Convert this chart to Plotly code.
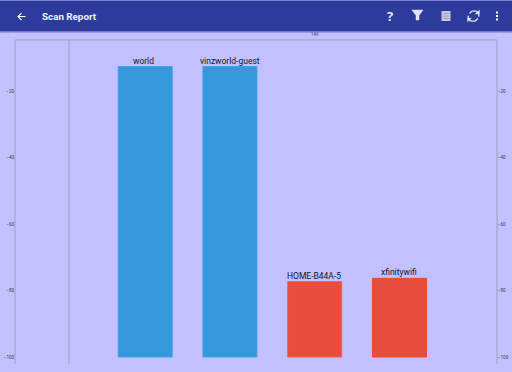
import plotly.graph_objects as go

W, H = 512, 372
L, R, T, B = 15, 497, 39.5, 364

networks = ["world", "vinzworld-guest", "HOME-B44A-5", "xfinitywifi"]
positions = [1, 2, 3, 4]
levels = [-12.5, -12.5, -77.3, -76.3]
colors = ["#3498db", "#3498db", "#e74c3c", "#e74c3c"]
edges = ["#3ea2e6", "#3ea2e6", "#ee5f50", "#ee4630"]
y_ticks = [-20, -40, -60, -80, -100]
top_tick_pos = [3]
top_tick_labels = ["149"]
BG = "#c2c0ff"
BAR = "#2d3c9c"
AX = "#a0a0b4"

def px(x): return (x - L) / (R - L)
def py(y): return (B - y) / (B - T)

fig = go.Figure()
fig.add_trace(go.Bar(
    x=positions, y=[v + 100 for v in levels], base=-100, width=0.637,
    marker=dict(color=colors, line=dict(color=edges, width=1)),
    showlegend=False, hoverinfo="skip"))
fig.add_trace(go.Scatter(x=positions, y=levels, xaxis="x2", yaxis="y2", mode="markers",
                         marker=dict(opacity=0), showlegend=False, hoverinfo="skip"))

for pos, lev, name, shift in zip(positions, levels, networks, [-2, 0, -0.5, 0]):
    fig.add_annotation(x=pos, y=lev, xref="x", yref="y", text=name, showarrow=False,
                       yanchor="bottom", xshift=shift, yshift=-1,
                       font=dict(family="Roboto", size=8.5, color="#14142a"))

xr = [1 - (145.2 - L) / 84.75, 1 + (R - 145.2) / 84.75]
yr = [-100 - (B - 357) / 3.325, -20 + (91 - T) / 3.325]
tickfont = dict(family="Roboto", size=4.5, color="#3c3c50")
fig.update_layout(
    width=W, height=H, autosize=False,
    margin=dict(l=L, r=W - R, t=T, b=H - B, pad=0, autoexpand=False),
    paper_bgcolor=BG, plot_bgcolor=BG,
    xaxis=dict(range=xr, visible=False, fixedrange=True),
    xaxis2=dict(range=xr, overlaying="x", side="top", tickvals=top_tick_pos, ticktext=top_tick_labels,
                tickfont=tickfont, ticks="", showgrid=False, zeroline=False, showline=False,
                automargin=False, fixedrange=True, ticklabelstandoff=2),
    yaxis=dict(range=yr, tickvals=y_ticks, tickfont=tickfont, ticks="", showgrid=False, zeroline=False,
               showline=False, automargin=False, fixedrange=True),
    yaxis2=dict(range=yr, overlaying="y", side="right", tickvals=y_ticks, tickfont=tickfont, ticks="",
                showgrid=False, zeroline=False, showline=False, automargin=False, fixedrange=True),
)

def rect(x0, y0, x1, y1, fill, line=None, w=0):
    fig.add_shape(type="rect", xref="paper", yref="paper", x0=px(x0), x1=px(x1), y0=py(y0), y1=py(y1),
                  fillcolor=fill, line=dict(color=line or fill, width=w), layer="above")

def pline(x0, y0, x1, y1, color, w=1):
    fig.add_shape(type="line", xref="paper", yref="paper", x0=px(x0), x1=px(x1), y0=py(y0), y1=py(y1),
                  line=dict(color=color, width=w), layer="above")

def path(points, fill=None, line="#ffffff", w=1.5):
    d = "M " + " L ".join(f"{px(x)} {py(y)}" for x, y in points)
    if fill:
        d += " Z"
    fig.add_shape(type="path", xref="paper", yref="paper", path=d, fillcolor=fill or "rgba(0,0,0,0)",
                  line=dict(color=line, width=w), layer="above")

def text(x, y, s, size, color="#ffffff", anchor="left", family="Roboto"):
    fig.add_annotation(xref="paper", yref="paper", x=px(x), y=py(y), text=s, showarrow=False,
                       xanchor=anchor, yanchor="middle", font=dict(family=family, size=size, color=color))

# Frame
pline(L, T, R, T, AX, 1)
pline(L, T, L, B, AX, 1)
pline(R, T, R, B, AX, 1)
pline(69, T, 69, B, AX, 1)

# Toolbar
rect(0, 0, W, 31, BAR)
pline(0, 31.5, W, 31.5, "#6f76c4", 1)
text(40, 16, "<b>Scan Report</b>", 9.8, color="#f0f0fa")
path([(18, 16), (25.5, 16)], w=1.1)
path([(21.5, 12.5), (18, 16), (21.5, 19.5)], w=1.1)
text(390, 15.5, "<b>?</b>", 13, color="#e4e4f4", anchor="center", family="Open Sans")
path([(412, 9.5), (423, 9.5), (419, 15), (419, 19.5), (416, 19.5), (416, 15)], fill="#e4e4f4", line="#e4e4f4", w=0.5)
rect(441.5, 10.5, 450.5, 20.5, "#c8c8e0")
for yy in (13, 15.5, 18):
    pline(443, yy, 449, yy, "#7f86c0", 0.7)
path([(468, 15), (468.5, 18.5), (471, 20.5), (475, 20.5), (478, 18)], w=1.3, line="#e4e4f4")
path([(479, 16), (478.5, 12.5), (476, 10.5), (472, 10.5), (469.5, 13)], w=1.3, line="#e4e4f4")
path([(475, 13.5), (479.5, 13.5), (479.5, 9.5)], fill="#e4e4f4", line="#e4e4f4", w=0.3)
path([(471.5, 17.5), (467.5, 17.5), (467.5, 21.5)], fill="#e4e4f4", line="#e4e4f4", w=0.3)
for yy in (12, 15.5, 19):
    rect(496, yy - 1, 498, yy + 1, "#ffffff")

fig.write_html("out.html", config={"displayModeBar": False},
               post_script="document.body.style.margin='0';document.documentElement.style.overflow='hidden';")
